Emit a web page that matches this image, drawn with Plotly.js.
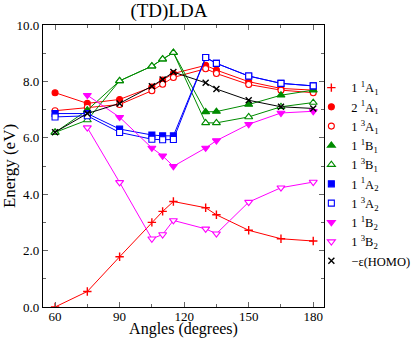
<!DOCTYPE html>
<html>
<head>
<meta charset="utf-8">
<script src="https://cdn.plot.ly/plotly-3.0.1.min.js"></script>
<style>
  body { margin: 0; background: #fff; }
  #plot { width: 415px; height: 338px; }
</style>
</head>
<body>
<div id="plot"></div>
<script>
let angles = [60, 75, 90, 105, 110, 115, 130, 135, 150, 165, 180];

let s1A1 = [0.0, 0.55, 1.78, 3.0, 3.39, 3.74, 3.52, 3.27, 2.72, 2.42, 2.34];
let s2A1 = [7.6, 7.22, 7.36, 7.8, 8.05, 8.28, 8.57, 8.4, 7.99, 7.75, 7.69];
let t1A1 = [6.96, 7.08, 7.18, 7.67, 7.9, 8.14, 8.45, 8.28, 7.89, 7.69, 7.6];
let s1B1 = [6.19, 6.98, 8.02, 8.54, 8.79, 9.02, 6.92, 6.93, 7.18, 7.51, 7.69];
let t1B1 = [6.19, 6.63, 8.02, 8.54, 8.79, 9.02, 6.53, 6.53, 6.74, 7.1, 7.25];
let s1A2 = [6.86, 6.86, 6.31, 6.1, 6.07, 6.07, 8.85, 8.64, 8.19, 7.93, 7.84];
let t1A2 = [6.74, 6.78, 6.19, 5.95, 5.93, 5.94, 8.85, 8.64, 8.19, 7.93, 7.84];
let s1B2 = [null, 7.51, 6.73, 5.64, 5.36, 4.99, 5.64, 5.9, 6.48, 6.88, 6.94];
let t1B2 = [null, 6.36, 4.42, 2.42, 2.57, 3.07, 2.77, 2.6, 3.72, 4.23, 4.43];
let homo = [6.2, 6.86, 7.22, 7.83, 8.07, 8.33, 7.95, 7.73, 7.33, 7.1, 7.04];

let names = [
    '1 <sup>1</sup>A<sub>1</sub>', '2 <sup>1</sup>A<sub>1</sub>', '1 <sup>3</sup>A<sub>1</sub>',
    '1 <sup>1</sup>B<sub>1</sub>', '1 <sup>3</sup>B<sub>1</sub>',
    '1 <sup>1</sup>A<sub>2</sub>', '1 <sup>3</sup>A<sub>2</sub>',
    '1 <sup>1</sup>B<sub>2</sub>', '1 <sup>3</sup>B<sub>2</sub>',
    '\u2212\u03b5(HOMO)'
];

let series = [s1A1, s2A1, t1A1, s1B1, t1B1, s1A2, t1A2, s1B2, t1B2, homo];
let colors = ['#ff0000', '#ff0000', '#ff0000', '#008b00', '#008b00',
              '#0000ff', '#0000ff', '#ff00ff', '#ff00ff', '#000000'];
let symbols = ['cross-thin', 'circle', 'circle', 'triangle-up', 'triangle-up',
               'square', 'square', 'triangle-down', 'triangle-down', 'x-thin'];
let open = [false, false, true, false, true, false, true, false, true, false];

let traces = [];
series.forEach(function (ys, i) {
    traces.push({
        x: angles, y: ys, type: 'scatter', mode: 'lines',
        line: { color: colors[i], width: 1 },
        connectgaps: false, showlegend: false, hoverinfo: 'skip'
    });
    let thin = symbols[i].indexOf('thin') >= 0;
    let tri = symbols[i].indexOf('triangle') >= 0;
    traces.push({
        x: angles, y: ys, type: 'scatter', mode: 'markers', name: names[i],
        marker: {
            symbol: symbols[i],
            size: thin ? 6 : (tri ? 7 : 6),
            color: open[i] ? '#ffffff' : colors[i],
            line: { color: colors[i], width: thin ? 1.4 : 1.1 }
        }
    });
});

let serif = 'Liberation Serif';

let axisCommon = {
    showline: true, linecolor: '#000', linewidth: 1.2, mirror: 'ticks',
    ticks: 'inside', ticklen: 5, tickcolor: '#666', tickwidth: 1,
    showgrid: false, zeroline: false,
    tickfont: { family: serif, size: 13, color: '#000' }
};

let layout = {
    width: 415, height: 338,
    margin: { l: 43, r: 91, t: 25, b: 31, autoexpand: false },
    paper_bgcolor: '#fff', plot_bgcolor: '#fff',
    font: { family: serif, color: '#000' },
    title: { text: '(TD)LDA', x: 0.407, xanchor: 'center', y: 0.99, yanchor: 'top',
             font: { family: serif, size: 19, color: '#000' } },
    xaxis: Object.assign({}, axisCommon, {
        range: [54.4, 185], tick0: 60, dtick: 30,
        ticklabelstandoff: -3,
        minor: { dtick: 15, ticks: 'inside', ticklen: 3, tickcolor: '#666' },
        title: { text: 'Angles (degrees)', standoff: 1,
                 font: { family: serif, size: 16, color: '#000' } }
    }),
    yaxis: Object.assign({}, axisCommon, {
        range: [0, 10], tick0: 0, dtick: 2, tickformat: '.1f',
        ticklabelstandoff: 0,
        minor: { dtick: 1, ticks: 'inside', ticklen: 3, tickcolor: '#666' },
        title: { text: 'Energy (eV)', standoff: 2,
                 font: { family: serif, size: 17, color: '#000' } }
    }),
    legend: {
        x: 0.955, xanchor: 'left', y: 0.47, yanchor: 'middle',
        bgcolor: 'rgba(0,0,0,0)', borderwidth: 0,
        font: { family: serif, size: 12.5, color: '#000' },
        itemwidth: 30, tracegroupgap: 0
    }
};

Plotly.newPlot('plot', traces, layout, { displayModeBar: false, staticPlot: true });
</script>
</body>
</html>
